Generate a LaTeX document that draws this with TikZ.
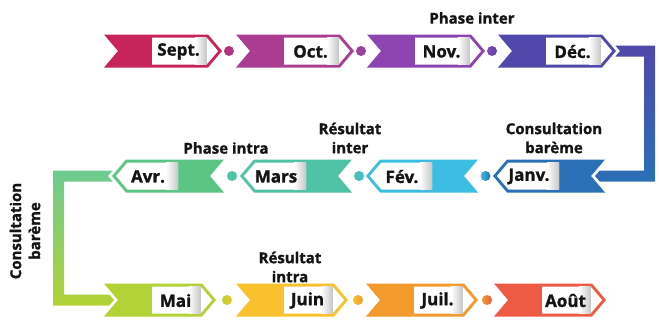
\documentclass[tikz,border=0pt]{standalone}
\usepackage{fontspec}
\setmainfont{Open Sans}[BoldFeatures={FakeBold=1.3}]
\definecolor{csep}{HTML}{C8245C}
\definecolor{coct}{HTML}{AA3D91}
\definecolor{cnov}{HTML}{8C45B0}
\definecolor{cdec}{HTML}{5048AA}
\definecolor{cjan}{HTML}{2B6FB6}
\definecolor{cfev}{HTML}{3DBDE2}
\definecolor{cmar}{HTML}{50C2A5}
\definecolor{cavr}{HTML}{5CC585}
\definecolor{cmai}{HTML}{B3D235}
\definecolor{cjui}{HTML}{F8C12D}
\definecolor{cjul}{HTML}{F29A2B}
\definecolor{caou}{HTML}{EE5B45}
\definecolor{ctxt}{HTML}{141414}
\tikzset{
  monthtext/.style={font=\fontsize{17}{19}\selectfont\bfseries, text=ctxt, inner sep=0pt},
  annot/.style={font=\fontsize{15}{19}\selectfont\bfseries, align=center, text=ctxt, inner sep=0pt},
}
% rightward chevron: #1 left x, #2 centre y, #3 width, #4 colour, #5 text, #6 name
\newcommand{\chevRight}[6]{%
\begin{scope}[shift={(#1,#2)}]
\fill[#4] (0,-16.5) -- (#3-14,-16.5) -- (#3,0) -- (#3-14,16.5) -- (0,16.5) -- (14,0) -- cycle;
\fill[white] (48,-13.5) -- (#3-15.4,-13.5) -- (#3-3.9,0) -- (#3-15.4,13.5) -- (48,13.5) -- cycle;
\shade[left color=white,right color=black!22] (#3-27,-13.5) rectangle (#3-15.5,13.5);
\node[monthtext] (#6) at ({(48+#3-17)/2},0.5) {#5};
\end{scope}}
% leftward chevron: #1 left tip x
\newcommand{\chevLeft}[6]{%
\begin{scope}[shift={(#1,#2)}]
\fill[#4] (0,0) -- (14,-16.5) -- (#3,-16.5) -- (#3-14,0) -- (#3,16.5) -- (14,16.5) -- cycle;
\fill[white] (3.9,0) -- (15.4,-13.5) -- (66,-13.5) -- (66,13.5) -- (15.4,13.5) -- cycle;
\shade[left color=white,right color=black!22] (54,-13.5) rectangle (66,13.5);
\node[monthtext] (#6) at (36,0.5) {#5};
\end{scope}}
\newcommand{\joindot}[4]{\shade[left color=#3,right color=#4] (#1,#2) circle (5);}
\begin{document}
\begin{tikzpicture}[x=1pt,y=-1pt]
\useasboundingbox (0,0) rectangle (659,322);
% connector bars
\shade[top color=cdec, bottom color=cjan]
  (615.3,45.5) -- (655,45.5) -- (655,181.5) -- (599.7,181.5) -- (595,176)
  -- (599.7,170.5) -- (644,170.5) -- (644,56.5) -- (615.3,56.5) -- (620,51) -- cycle;
\shade[top color=cavr!90, bottom color=cmai]
  (53,170.5) -- (112.7,170.5) -- (108,176) -- (112.7,181.5) -- (64,181.5)
  -- (64,294.5) -- (109.3,294.5) -- (114,300) -- (109.3,305.5) -- (53,305.5) -- cycle;
% row 1
\chevRight{104}{51}{118}{csep}{Sept.}{sep}
\chevRight{236}{51}{118}{coct}{Oct.}{oct}
\chevRight{367}{51}{118}{cnov}{Nov.}{nov}
\chevRight{498}{51}{118}{cdec}{Déc.}{dec}
\joindot{229}{51}{csep!60!coct}{coct}
\joindot{361}{51}{coct}{cnov}
\joindot{492}{51}{cnov}{cdec}
% row 2
\chevLeft{112}{176}{112}{cavr}{Avr.}{avr}
\chevLeft{240}{176}{112}{cmar}{Mars}{mar}
\chevLeft{366}{176}{112}{cfev}{Fév.}{fev}
\chevLeft{493}{176}{112}{cjan}{Janv.}{jan}
\joindot{232}{176}{cmar}{cmar}
\joindot{359}{176}{cmar}{cfev}
\joindot{485.5}{176}{cfev}{cjan}
% row 3
\chevRight{104}{300}{112}{cmai}{Mai}{mai}
\chevRight{236}{300}{112}{cjui}{Juin}{jui}
\chevRight{366}{300}{112}{cjul}{Juil.}{jul}
\chevRight{494}{300}{112}{caou}{Août}{aou}
\joindot{227}{300}{cmai}{cjui}
\joindot{358}{300}{cjui}{cjul}
\joindot{487}{300}{cjul}{caou}
% annotations
\node[annot] (a1) at (472,18) {Phase inter};
\node[annot] (a2) at (350,138) {Résultat\\inter};
\node[annot] (a3) at (226,148) {Phase intra};
\node[annot] (a4) at (554,138) {Consultation\\barème};
\node[annot, rotate=90] (a5) at (25,231) {Consultation\\barème};
\node[annot] (a6) at (290,267) {Résultat\\intra};
\end{tikzpicture}
\end{document}
